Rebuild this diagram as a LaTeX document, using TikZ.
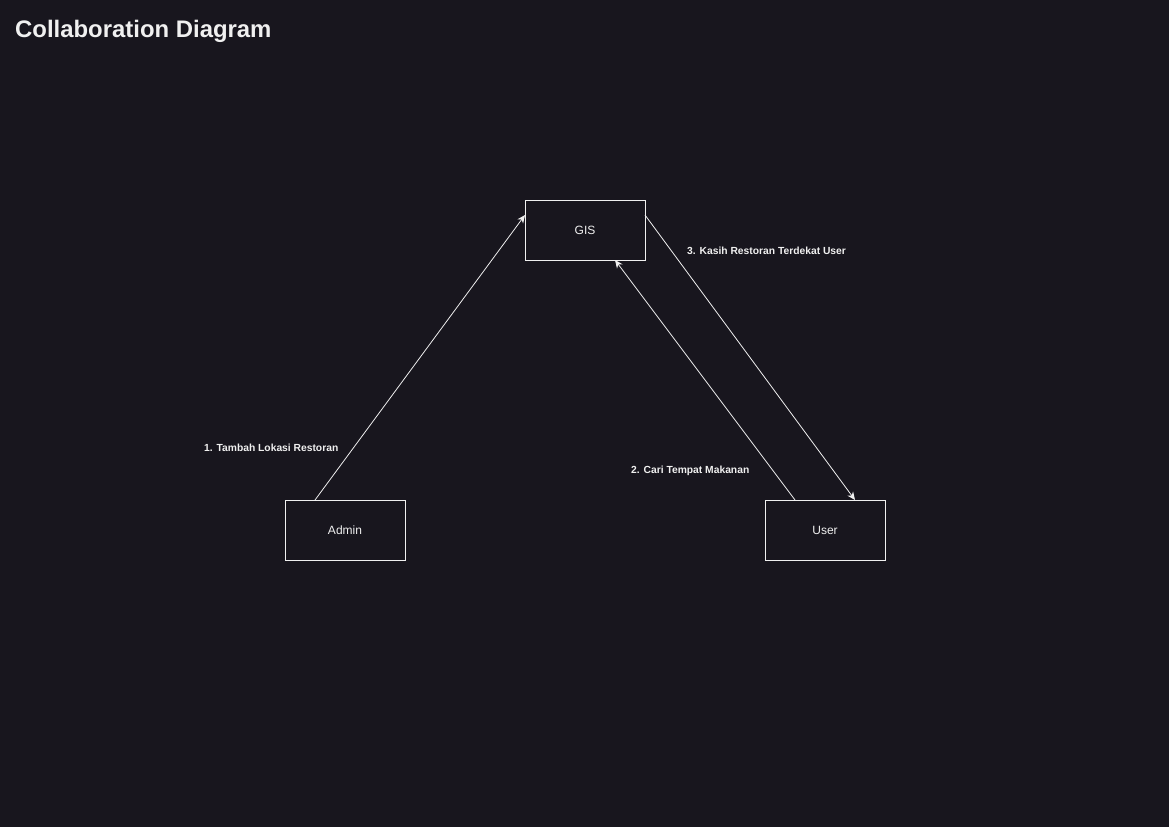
\documentclass[tikz,border=0pt]{standalone}
\usepackage{fontspec}
\setmainfont{Liberation Sans}
\usetikzlibrary{arrows.meta}
\definecolor{bg}{HTML}{18161E}
\definecolor{fg}{HTML}{F0F0F0}
\tikzset{
  box/.style={draw=fg, line width=0.9pt, fill=bg, minimum width=120pt, minimum height=60pt, inner sep=0pt, text=fg, font=\fontsize{12}{14}\selectfont},
  msg/.style={draw=fg, line width=0.8pt, -{Stealth[length=8pt,width=7pt,inset=2.5pt]}},
  lbl/.style={text=fg, font=\bfseries\fontsize{10.3}{12}\selectfont, inner sep=0pt}
}
\begin{document}
\begin{tikzpicture}[x=1pt,y=-1pt]
\fill[bg] (0,0) rectangle (1169,827);
\useasboundingbox (0,0) rectangle (1169,827);
\node[anchor=west, text=fg, font=\bfseries\fontsize{23.9}{27}\selectfont, inner sep=0pt] (title) at (15,31.5) {Collaboration Diagram};
\node[box] (gis) at (585,230) {GIS};
\node[box] (admin) at (345,530) {Admin};
\node[box] (user) at (825,530) {User};
\coordinate (a1) at (315,500);
\coordinate (g1) at (525,215);
\coordinate (u2) at (795,500);
\coordinate (g2) at (615,260);
\coordinate (g3) at (645,215);
\coordinate (u3) at (855,500);
\draw[msg] (a1) -- (g1);
\draw[msg] (u2) -- (g2);
\draw[msg] (g3) -- (u3);
\node[lbl, anchor=west] (l1) at (204,448) {1. Tambah Lokasi Restoran};
\node[lbl, anchor=west] (l2) at (631,471) {2. Cari Tempat Makanan};
\node[lbl, anchor=west] (l3) at (687,251) {3. Kasih Restoran Terdekat User};
\end{tikzpicture}
\end{document}
